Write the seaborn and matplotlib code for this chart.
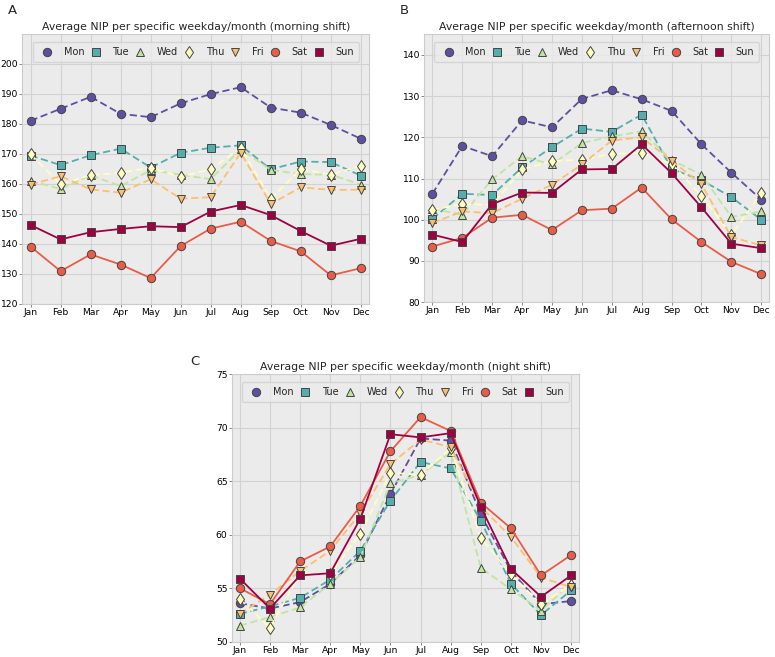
import numpy as np
import pandas as pd
import matplotlib
matplotlib.use("Agg")
import matplotlib.pyplot as plt
import seaborn as sns
from matplotlib.lines import Line2D

months = ["Jan", "Feb", "Mar", "Apr", "May", "Jun", "Jul", "Aug", "Sep", "Oct", "Nov", "Dec"]
days = ["Mon", "Tue", "Wed", "Thu", "Fri", "Sat", "Sun"]

# morning shift
morning_mon = [181.0, 185.0, 189.0, 183.3, 182.2, 186.8, 189.9, 192.2, 185.4, 183.7, 179.6, 175.0]
morning_tue = [169.4, 166.2, 169.5, 171.7, 165.4, 170.3, 172.0, 172.8, 164.8, 167.4, 167.2, 162.7]
morning_wed = [161.0, 158.2, 162.8, 159.2, 164.5, 163.0, 161.5, 171.5, 164.6, 163.2, 163.0, 159.7]
morning_thu = [169.8, 159.8, 162.9, 163.6, 165.4, 162.3, 164.8, 172.0, 155.0, 164.9, 163.0, 166.0]
morning_fri = [159.7, 162.5, 158.1, 157.0, 161.5, 155.0, 155.5, 170.3, 153.2, 158.8, 157.9, 158.0]
morning_sat = [139.0, 130.8, 136.4, 133.0, 128.5, 139.2, 145.0, 147.3, 140.9, 137.4, 129.4, 131.8]
morning_sun = [146.2, 141.4, 143.8, 144.9, 145.8, 145.5, 150.7, 152.9, 149.5, 144.2, 139.3, 141.6]

# afternoon shift
afternoon_mon = [106.3, 117.9, 115.4, 124.1, 122.4, 129.3, 131.4, 129.2, 126.4, 118.3, 111.4, 104.9]
afternoon_tue = [100.2, 106.3, 106.0, 112.7, 117.6, 122.1, 121.3, 125.5, 112.3, 109.6, 105.5, 100.0]
afternoon_wed = [102.7, 101.2, 109.8, 115.4, 113.4, 118.6, 120.2, 121.4, 114.5, 110.9, 100.7, 102.0]
afternoon_thu = [102.4, 103.8, 103.6, 112.2, 114.2, 114.6, 116.0, 116.2, 113.6, 105.8, 96.3, 106.4]
afternoon_fri = [99.2, 102.0, 101.6, 105.1, 108.5, 113.4, 119.2, 120.0, 114.3, 108.6, 95.8, 93.8]
afternoon_sat = [93.5, 95.6, 100.5, 101.2, 97.5, 102.3, 102.7, 107.8, 100.1, 94.6, 89.8, 86.8]
afternoon_sun = [96.4, 94.6, 103.8, 106.6, 106.5, 112.2, 112.3, 118.3, 111.3, 103.0, 94.2, 93.1]

# night shift
night_mon = [53.6, 53.1, 53.7, 55.4, 58.1, 63.8, 69.0, 68.8, 61.9, 56.6, 53.5, 53.8]
night_tue = [52.6, 53.3, 54.1, 55.8, 58.5, 63.2, 66.8, 66.2, 61.3, 55.4, 52.5, 54.8]
night_wed = [51.5, 52.3, 53.2, 55.4, 57.9, 64.8, 65.6, 67.7, 56.9, 54.9, 52.9, 55.5]
night_thu = [54.0, 51.3, 56.4, 56.3, 60.1, 65.8, 65.6, 68.1, 59.7, 56.3, 53.5, 55.3]
night_fri = [52.6, 54.4, 56.6, 58.5, 62.0, 66.6, 68.9, 68.2, 62.6, 59.8, 56.0, 55.1]
night_sat = [55.0, 53.5, 57.5, 58.9, 62.7, 67.8, 71.0, 69.7, 63.0, 60.6, 56.2, 58.1]
night_sun = [55.9, 53.1, 56.2, 56.4, 61.5, 69.4, 69.1, 69.5, 62.6, 56.8, 54.2, 56.2]

panels = [
    ("A", "morning", [morning_mon, morning_tue, morning_wed, morning_thu, morning_fri, morning_sat, morning_sun], (120, 209.9)),
    ("B", "afternoon", [afternoon_mon, afternoon_tue, afternoon_wed, afternoon_thu, afternoon_fri, afternoon_sat, afternoon_sun], (80, 145)),
    ("C", "night", [night_mon, night_tue, night_wed, night_thu, night_fri, night_sat, night_sun], (50, 75)),
]

colors = [matplotlib.colors.to_hex(c) for c in plt.cm.Spectral_r(np.linspace(0, 1, 7))]
palette = dict(zip(days, colors))
markers = dict(zip(days, ["o", "s", "^", "d", "v", "o", "s"]))
dashes = {d: ((4, 2) if d not in ("Sat", "Sun") else "") for d in days}

sns.set_style("darkgrid", {
    "axes.facecolor": "#ebebeb",
    "grid.color": "#d2d2d2",
    "axes.edgecolor": "#cccccc",
    "xtick.bottom": True,
    "ytick.left": True,
})
plt.rcParams["font.family"] = ["DejaVu Sans"]
plt.rcParams["xtick.color"] = "#888888"
plt.rcParams["ytick.color"] = "#888888"
plt.rcParams["xtick.labelcolor"] = "black"
plt.rcParams["ytick.labelcolor"] = "black"

fig = plt.figure(figsize=(7.75, 6.57), dpi=100)
axes = [
    fig.add_axes([0.029, 0.538, 0.447, 0.410]),
    fig.add_axes([0.5475, 0.540, 0.4452, 0.408]),
    fig.add_axes([0.299, 0.0233, 0.4485, 0.407]),
]
letter_pos = [(8, 4), (400, 4), (190, 355)]

for ax, (letter, shift, series, ylim), (lx, ly) in zip(axes, panels, letter_pos):
    df = pd.DataFrame({
        "month": np.tile(np.arange(len(months)), len(days)),
        "value": np.concatenate(series),
        "day": np.repeat(days, len(months)),
    })
    sns.lineplot(data=df, x="month", y="value", hue="day", style="day",
                 palette=palette, markers=markers, dashes=dashes,
                 hue_order=days, style_order=days, markersize=6,
                 markeredgecolor="#444444", markeredgewidth=0.7,
                 linewidth=1.3, legend=False, ax=ax)
    ax.set_xlim(-0.27, 11.27)
    ax.set_ylim(*ylim)
    ax.set_xticks(range(len(months)))
    ax.set_xticklabels(months)
    ax.set_xlabel("")
    ax.set_ylabel("")
    ax.tick_params(axis="both", labelsize=6.6, length=2.0, width=0.7, pad=1.0)
    ax.set_title(f"Average NIP per specific weekday/month ({shift} shift)", fontsize=7.8, pad=3)
    handles = [Line2D([], [], linestyle="none", marker=markers[d], color=palette[d],
                      markeredgecolor="#444444", markeredgewidth=0.7, markersize=6)
               for d in days]
    leg = ax.legend(handles, days, loc="upper left", ncol=7, mode="expand",
                    bbox_to_anchor=(0.015, 0.0, 0.97, 0.988), fontsize=7.0,
                    handletextpad=0.7, borderpad=0.5, frameon=True)
    leg.get_frame().set_facecolor("#ebebeb")
    leg.get_frame().set_edgecolor("#d0d0d0")
    fig.text(lx / 775, 1 - ly / 657, letter, fontsize=9.5, ha="left", va="top")

fig.savefig("out.png", dpi=100)
